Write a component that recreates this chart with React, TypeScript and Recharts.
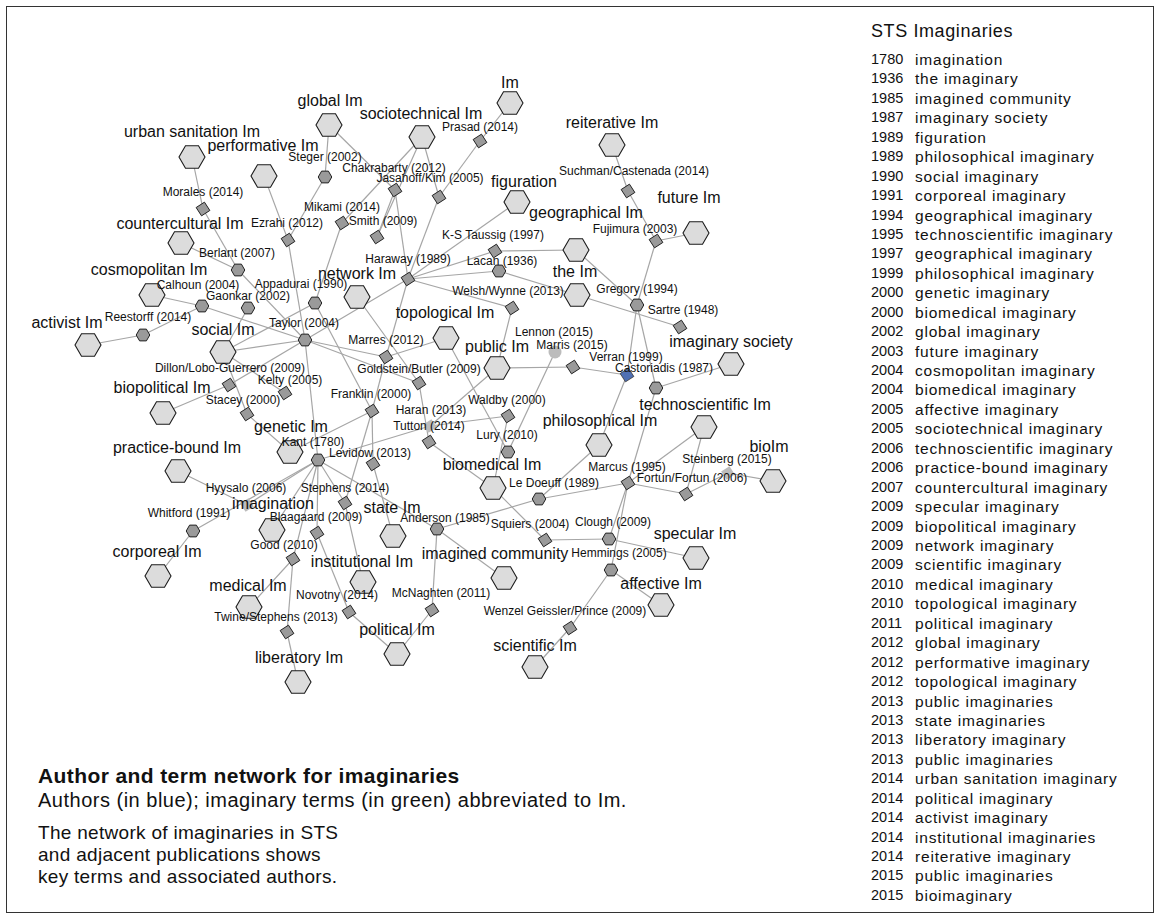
import { ScatterChart, Scatter, XAxis, YAxis } from "recharts";

// layout coordinates of the network (1 unit = 1 px of the figure)
// [term, x, y, labelX, labelY]
const TERMS: [string, number, number, number, number][] = [
  ["urban sanitation Im", 192, 157, 192, 131],
  ["performative Im", 264, 176, 263, 145],
  ["global Im", 329, 125, 330, 100],
  ["sociotechnical Im", 422, 137, 421, 113],
  ["Im", 510, 103, 510, 82],
  ["reiterative Im", 612, 145, 612, 122],
  ["future Im", 696, 233, 689, 197],
  ["figuration", 517, 202, 524, 181],
  ["geographical Im", 576, 250, 586, 212],
  ["the Im", 577, 295, 575, 271],
  ["network Im", 357, 297, 357, 273],
  ["topological Im", 446, 338, 445, 312],
  ["public Im", 497, 368, 497, 346],
  ["social Im", 223, 352, 223, 329],
  ["cosmopolitan Im", 152, 295, 149, 269],
  ["activist Im", 88, 345, 67, 322],
  ["countercultural Im", 181, 243, 180, 223],
  ["biopolitical Im", 163, 413, 162, 387],
  ["practice-bound Im", 178, 471, 177, 447],
  ["genetic Im", 290, 452, 291, 426],
  ["imagination", 272, 530, 273, 503],
  ["corporeal Im", 158, 576, 157, 551],
  ["medical Im", 249, 607, 248, 585],
  ["liberatory Im", 298, 682, 299, 657],
  ["institutional Im", 363, 582, 362, 561],
  ["state Im", 393, 536, 392, 507],
  ["political Im", 397, 654, 397, 629],
  ["imagined community", 504, 578, 495, 553],
  ["biomedical Im", 493, 488, 492, 464],
  ["scientific Im", 535, 667, 535, 645],
  ["philosophical Im", 599, 445, 600, 420],
  ["imaginary society", 731, 364, 731, 341],
  ["technoscientific Im", 704, 427, 705, 404],
  ["bioIm", 773, 481, 769, 446],
  ["specular Im", 696, 558, 695, 533],
  ["affective Im", 661, 605, 661, 583],
];

// [author, kind, x, y, labelX, labelY]  d=diamond h=hexagon l=light c=light circle b=blue
const AUTHORS: [string, string, number, number, number, number][] = [
  ["Morales (2014)", "d", 203, 209, 203, 192],
  ["Ezrahi (2012)", "d", 288, 240, 287, 223],
  ["Steger (2002)", "h", 325, 177, 325, 157],
  ["Chakrabarty (2012)", "d", 395, 190, 394, 168],
  ["Jasanoff/Kim (2005)", "d", 439, 197, 430, 178],
  ["Prasad (2014)", "d", 480, 141, 480, 127],
  ["Mikami (2014)", "d", 342, 223, 342, 207],
  ["Smith (2009)", "d", 377, 237, 383, 221],
  ["Suchman/Castenada (2014)", "d", 628, 191, 634, 171],
  ["Fujimura (2003)", "d", 656, 241, 635, 229],
  ["K-S Taussig (1997)", "d", 495, 251, 493, 235],
  ["Haraway (1989)", "d", 408, 279, 408, 259],
  ["Lacan (1936)", "h", 499, 271, 502, 261],
  ["Berlant (2007)", "h", 238, 270, 237, 253],
  ["Calhoun (2004)", "h", 202, 306, 198, 285],
  ["Gaonkar (2002)", "h", 248, 308, 248, 296],
  ["Appadurai (1990)", "h", 315, 303, 301, 284],
  ["Reestorff (2014)", "h", 143, 335, 148, 317],
  ["Taylor (2004)", "h", 305, 340, 304, 323],
  ["Marres (2012)", "d", 386, 357, 386, 340],
  ["Goldstein/Butler (2009)", "d", 419, 383, 419, 369],
  ["Welsh/Wynne (2013)", "d", 512, 308, 508, 291],
  ["Gregory (1994)", "h", 637, 305, 637, 289],
  ["Sartre (1948)", "d", 680, 327, 683, 310],
  ["Lennon (2015)", "c", 555, 352, 554, 332],
  ["Marris (2015)", "d", 573, 367, 572, 345],
  ["Verran (1999)", "b", 627, 375, 626, 357],
  ["Castoriadis (1987)", "h", 656, 388, 664, 368],
  ["Dillon/Lobo-Guerrero (2009)", "d", 229, 385, 230, 368],
  ["Kelty (2005)", "d", 285, 393, 290, 380],
  ["Stacey (2000)", "d", 247, 414, 243, 400],
  ["Franklin (2000)", "d", 372, 411, 371, 394],
  ["Haran (2013)", "l", 430, 426, 431, 410],
  ["Tutton (2014)", "d", 429, 442, 429, 426],
  ["Waldby (2000)", "d", 508, 416, 507, 400],
  ["Lury (2010)", "h", 508, 452, 507, 435],
  ["Kant (1780)", "h", 318, 460, 313, 442],
  ["Levidow (2013)", "d", 373, 464, 370, 453],
  ["Hyysalo (2006)", "l", 247, 505, 246, 488],
  ["Stephens (2014)", "d", 345, 503, 345, 488],
  ["Blaagaard (2009)", "d", 317, 533, 316, 517],
  ["Good (2010)", "d", 293, 559, 284, 545],
  ["Whitford (1991)", "h", 193, 531, 189, 513],
  ["Anderson (1985)", "h", 437, 529, 445, 518],
  ["Novotny (2014)", "d", 349, 612, 337, 595],
  ["McNaghten (2011)", "d", 432, 610, 441, 593],
  ["Twine/Stephens (2013)", "d", 287, 632, 276, 617],
  ["Le Doeuff (1989)", "h", 539, 499, 554, 483],
  ["Squiers (2004)", "d", 545, 540, 530, 524],
  ["Clough (2009)", "h", 609, 539, 613, 522],
  ["Hemmings (2005)", "h", 611, 570, 619, 553],
  ["Wenzel Geissler/Prince (2009)", "d", 570, 628, 565, 611],
  ["Marcus (1995)", "d", 628, 483, 627, 467],
  ["Fortun/Fortun (2006)", "d", 686, 494, 692, 478],
  ["Steinberg (2015)", "l", 728, 473, 727, 459],
];

const EDGES: [string, string][] = [
  ["urban sanitation Im", "Morales (2014)"],
  ["Morales (2014)", "Berlant (2007)"],
  ["countercultural Im", "Berlant (2007)"],
  ["Berlant (2007)", "Taylor (2004)"],
  ["performative Im", "Ezrahi (2012)"],
  ["Ezrahi (2012)", "Steger (2002)"],
  ["Steger (2002)", "global Im"],
  ["Ezrahi (2012)", "Taylor (2004)"],
  ["global Im", "Chakrabarty (2012)"],
  ["sociotechnical Im", "Mikami (2014)"],
  ["sociotechnical Im", "Smith (2009)"],
  ["sociotechnical Im", "Jasanoff/Kim (2005)"],
  ["Chakrabarty (2012)", "Smith (2009)"],
  ["Chakrabarty (2012)", "Haraway (1989)"],
  ["Jasanoff/Kim (2005)", "Haraway (1989)"],
  ["Jasanoff/Kim (2005)", "Prasad (2014)"],
  ["Prasad (2014)", "Im"],
  ["Mikami (2014)", "Appadurai (1990)"],
  ["Haraway (1989)", "figuration"],
  ["Haraway (1989)", "K-S Taussig (1997)"],
  ["Haraway (1989)", "Lacan (1936)"],
  ["Haraway (1989)", "Welsh/Wynne (2013)"],
  ["Haraway (1989)", "Taylor (2004)"],
  ["Haraway (1989)", "Marres (2012)"],
  ["Marres (2012)", "Franklin (2000)"],
  ["network Im", "Goldstein/Butler (2009)"],
  ["Taylor (2004)", "Marres (2012)"],
  ["Taylor (2004)", "Goldstein/Butler (2009)"],
  ["Marres (2012)", "topological Im"],
  ["Goldstein/Butler (2009)", "Tutton (2014)"],
  ["social Im", "Taylor (2004)"],
  ["social Im", "Gaonkar (2002)"],
  ["social Im", "Kelty (2005)"],
  ["cosmopolitan Im", "Calhoun (2004)"],
  ["Calhoun (2004)", "Taylor (2004)"],
  ["Calhoun (2004)", "Reestorff (2014)"],
  ["Reestorff (2014)", "activist Im"],
  ["Appadurai (1990)", "social Im"],
  ["Appadurai (1990)", "Franklin (2000)"],
  ["Dillon/Lobo-Guerrero (2009)", "biopolitical Im"],
  ["Dillon/Lobo-Guerrero (2009)", "Taylor (2004)"],
  ["social Im", "Stacey (2000)"],
  ["Stacey (2000)", "genetic Im"],
  ["Franklin (2000)", "genetic Im"],
  ["Franklin (2000)", "Stephens (2014)"],
  ["Franklin (2000)", "Levidow (2013)"],
  ["Kant (1780)", "imagination"],
  ["Kant (1780)", "Taylor (2004)"],
  ["Kant (1780)", "Haran (2013)"],
  ["Haran (2013)", "Waldby (2000)"],
  ["Haran (2013)", "public Im"],
  ["Kant (1780)", "Anderson (1985)"],
  ["Kant (1780)", "Blaagaard (2009)"],
  ["Kant (1780)", "Good (2010)"],
  ["Kant (1780)", "Stephens (2014)"],
  ["Kant (1780)", "Whitford (1991)"],
  ["Kant (1780)", "Hyysalo (2006)"],
  ["Hyysalo (2006)", "practice-bound Im"],
  ["Whitford (1991)", "corporeal Im"],
  ["Good (2010)", "medical Im"],
  ["Good (2010)", "Twine/Stephens (2013)"],
  ["Twine/Stephens (2013)", "liberatory Im"],
  ["Blaagaard (2009)", "Novotny (2014)"],
  ["Novotny (2014)", "political Im"],
  ["Stephens (2014)", "institutional Im"],
  ["Levidow (2013)", "state Im"],
  ["Anderson (1985)", "imagined community"],
  ["Anderson (1985)", "McNaghten (2011)"],
  ["McNaghten (2011)", "political Im"],
  ["Anderson (1985)", "Le Doeuff (1989)"],
  ["Tutton (2014)", "biomedical Im"],
  ["topological Im", "Lury (2010)"],
  ["Lennon (2015)", "Lury (2010)"],
  ["Waldby (2000)", "biomedical Im"],
  ["Welsh/Wynne (2013)", "public Im"],
  ["biomedical Im", "Squiers (2004)"],
  ["Le Doeuff (1989)", "philosophical Im"],
  ["Le Doeuff (1989)", "Marcus (1995)"],
  ["Marcus (1995)", "Fortun/Fortun (2006)"],
  ["Fortun/Fortun (2006)", "technoscientific Im"],
  ["Marcus (1995)", "technoscientific Im"],
  ["Fortun/Fortun (2006)", "Steinberg (2015)"],
  ["Steinberg (2015)", "bioIm"],
  ["Marcus (1995)", "Clough (2009)"],
  ["Marcus (1995)", "Hemmings (2005)"],
  ["Clough (2009)", "Squiers (2004)"],
  ["Clough (2009)", "specular Im"],
  ["Hemmings (2005)", "affective Im"],
  ["Hemmings (2005)", "Wenzel Geissler/Prince (2009)"],
  ["Wenzel Geissler/Prince (2009)", "scientific Im"],
  ["Castoriadis (1987)", "Marcus (1995)"],
  ["Castoriadis (1987)", "imaginary society"],
  ["Gregory (1994)", "Castoriadis (1987)"],
  ["Gregory (1994)", "Verran (1999)"],
  ["Verran (1999)", "philosophical Im"],
  ["Marris (2015)", "Verran (1999)"],
  ["public Im", "Marris (2015)"],
  ["Gregory (1994)", "geographical Im"],
  ["Fujimura (2003)", "Gregory (1994)"],
  ["Fujimura (2003)", "future Im"],
  ["Suchman/Castenada (2014)", "Fujimura (2003)"],
  ["reiterative Im", "Suchman/Castenada (2014)"],
  ["the Im", "Sartre (1948)"],
  ["Lacan (1936)", "the Im"],
  ["K-S Taussig (1997)", "geographical Im"],
];

const LEGEND_YEARS = [
  1780, 1936, 1985, 1987, 1989, 1989, 1990, 1991, 1994, 1995, 1997, 1999, 2000, 2000, 2002,
  2003, 2004, 2004, 2005, 2005, 2006, 2006, 2007, 2009, 2009, 2009, 2009, 2010, 2010, 2011,
  2012, 2012, 2012, 2013, 2013, 2013, 2013, 2014, 2014, 2014, 2014, 2014, 2015, 2015,
];
const LEGEND_TERMS = [
  "imagination", "the imaginary", "imagined community", "imaginary society", "figuration",
  "philosophical imaginary", "social imaginary", "corporeal imaginary", "geographical imaginary",
  "technoscientific imaginary", "geographical imaginary", "philosophical imaginary",
  "genetic imaginary", "biomedical imaginary", "global imaginary", "future imaginary",
  "cosmopolitan imaginary", "biomedical imaginary", "affective imaginary",
  "sociotechnical imaginary", "technoscientific imaginary", "practice-bound imaginary",
  "countercultural imaginary", "specular imaginary", "biopolitical imaginary",
  "network imaginary", "scientific imaginary", "medical imaginary", "topological imaginary",
  "political imaginary", "global imaginary", "performative imaginary", "topological imaginary",
  "public imaginaries", "state imaginaries", "liberatory imaginary", "public imaginaries",
  "urban sanitation imaginary", "political imaginary", "activist imaginary",
  "institutional imaginaries", "reiterative imaginary", "public imaginaries", "bioimaginary",
];

const FONT = "'Liberation Sans', Arial, Helvetica, sans-serif";

const pos: Record<string, { x: number; y: number }> = {};
TERMS.forEach(([n, x, y]) => (pos[n] = { x, y }));
AUTHORS.forEach(([n, , x, y]) => (pos[n] = { x, y }));

const edgeData = EDGES.map(([a, b]) => [pos[a], pos[b]]);
const termData = TERMS.map(([name, x, y]) => ({ name, x, y }));
const authorData = AUTHORS.map(([name, kind, x, y]) => ({ name, kind, x, y }));
const labelData = [
  ...TERMS.map(([text, , , x, y]) => ({ text, x, y, big: true })),
  ...AUTHORS.map(([text, , , , x, y]) => ({ text, x, y, big: false })),
];

function poly(cx: number, cy: number, r: number, n: number, start: number) {
  const pts: string[] = [];
  for (let k = 0; k < n; k++) {
    const a = ((start + (360 / n) * k) * Math.PI) / 180;
    pts.push(`${(cx + r * Math.cos(a)).toFixed(2)},${(cy + r * Math.sin(a)).toFixed(2)}`);
  }
  return `M${pts.join("L")}Z`;
}

const TermShape = (p: any) => (
  <path d={poly(p.cx, p.cy, 13, 6, 0)} fill="#dcdcdc" stroke="#1c1c1c" strokeWidth={1.1} />
);

const AuthorShape = (p: any) => {
  const k = p.payload.kind;
  if (k === "h") return <path d={poly(p.cx, p.cy, 6.8, 6, 0)} fill="#9a9a9a" stroke="#222" strokeWidth={1} />;
  if (k === "c") return <circle cx={p.cx} cy={p.cy} r={6.5} fill="#bcbcbc" />;
  if (k === "l") return <path d={poly(p.cx, p.cy, 7, 4, 12)} fill="#bcbcbc" />;
  if (k === "b") return <path d={poly(p.cx, p.cy, 7, 4, 12)} fill="#4f70b4" stroke="#333" strokeWidth={0.8} />;
  return <path d={poly(p.cx, p.cy, 7, 4, 12)} fill="#9a9a9a" stroke="#222" strokeWidth={1} />;
};

const LabelShape = (p: any) => (
  <text
    x={p.cx}
    y={p.cy}
    textAnchor="middle"
    dominantBaseline="central"
    fontFamily={FONT}
    fontSize={p.payload.big ? 16 : 12}
    fill="#111"
  >
    {p.payload.text}
  </text>
);

const NoDot = () => <g />;

export default function App() {
  return (
    <div style={{ position: "relative", width: 1161, height: 919, background: "#fff", fontFamily: FONT, color: "#111" }}>
      <style>{`body{margin:0}`}</style>
      <div style={{ position: "absolute", left: 6, top: 6, width: 1148, height: 907, border: "1px solid #333", boxSizing: "border-box" }} />
      <div style={{ position: "absolute", left: 0, top: 0 }}>
        <ScatterChart width={1161} height={919} margin={{ top: 0, right: 0, bottom: 0, left: 0 }}>
          <XAxis type="number" dataKey="x" domain={[0, 1161]} hide />
          <YAxis type="number" dataKey="y" domain={[0, 919]} reversed hide />
          {edgeData.map((seg, i) => (
            <Scatter
              key={"e" + i}
              data={seg}
              line={{ stroke: "#a6a6a6", strokeWidth: 1.2 }}
              shape={NoDot}
              legendType="none"
              isAnimationActive={false}
            />
          ))}
          <Scatter data={termData} shape={TermShape} legendType="none" isAnimationActive={false} />
          <Scatter data={authorData} shape={AuthorShape} legendType="none" isAnimationActive={false} />
          <Scatter data={labelData} shape={LabelShape} legendType="none" isAnimationActive={false} />
        </ScatterChart>
      </div>

      <div style={{ position: "absolute", left: 871, top: 21, fontSize: 18, letterSpacing: 0.6, whiteSpace: "nowrap" }}>
        STS Imaginaries
      </div>
      {LEGEND_YEARS.map((yr, i) => (
        <div
          key={i}
          style={{
            position: "absolute",
            left: 871,
            top: 50 + i * 19.44,
            height: 19.44,
            lineHeight: "19.44px",
            whiteSpace: "nowrap",
          }}
        >
          <span style={{ position: "absolute", left: 0, fontSize: 14.5 }}>{yr}</span>
          <span style={{ position: "absolute", left: 44, fontSize: 15.5, letterSpacing: 0.8 }}>{LEGEND_TERMS[i]}</span>
        </div>
      ))}

      <div style={{ position: "absolute", left: 38, top: 763, whiteSpace: "nowrap" }}>
        <div style={{ fontWeight: "bold", fontSize: 21, letterSpacing: 0.4, lineHeight: "25px" }}>
          Author and term network for imaginaries
        </div>
        <div style={{ fontSize: 20, letterSpacing: 0.5, lineHeight: "24px" }}>
          Authors (in blue); imaginary terms (in green) abbreviated to Im.
        </div>
        <div style={{ fontSize: 19, letterSpacing: 0.3, lineHeight: "22px", marginTop: 10 }}>
          <div>The network of imaginaries in STS</div>
          <div>and adjacent publications shows</div>
          <div>key terms and associated authors.</div>
        </div>
      </div>
    </div>
  );
}
